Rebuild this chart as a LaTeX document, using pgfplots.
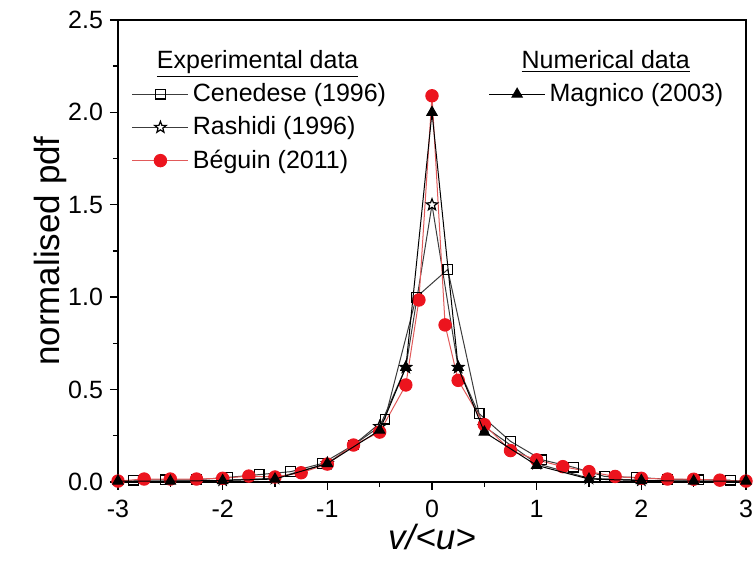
\documentclass[border=0pt]{standalone}
\usepackage{fontspec}
\setmainfont{Liberation Sans}
\usepackage{pgfplots}
\pgfplotsset{compat=1.18}
\definecolor{bred}{RGB}{236,20,30}
\definecolor{lred}{RGB}{225,90,90}
\definecolor{dgray}{RGB}{60,60,60}
\pgfdeclareplotmark{pstar}{%
  \pgfpathmoveto{\pgfpointpolar{90}{\pgfplotmarksize}}%
  \pgfpathlineto{\pgfpointpolar{126}{0.42\pgfplotmarksize}}%
  \pgfpathlineto{\pgfpointpolar{162}{\pgfplotmarksize}}%
  \pgfpathlineto{\pgfpointpolar{198}{0.42\pgfplotmarksize}}%
  \pgfpathlineto{\pgfpointpolar{234}{\pgfplotmarksize}}%
  \pgfpathlineto{\pgfpointpolar{270}{0.42\pgfplotmarksize}}%
  \pgfpathlineto{\pgfpointpolar{306}{\pgfplotmarksize}}%
  \pgfpathlineto{\pgfpointpolar{342}{0.42\pgfplotmarksize}}%
  \pgfpathlineto{\pgfpointpolar{18}{\pgfplotmarksize}}%
  \pgfpathlineto{\pgfpointpolar{54}{0.42\pgfplotmarksize}}%
  \pgfpathclose
  \pgfusepathqfillstroke}
\begin{document}
\begin{tikzpicture}
\path[use as bounding box] (-59pt,-39.5pt) rectangle (318.5pt,241pt);
\pgfplotsset{
  common/.style={
    scale only axis, width=314pt, height=231pt,
    xmin=-3, xmax=3, ymin=0, ymax=2.5,
    legend cell align=left,
    legend image code/.code={\draw[mark repeat=2,mark phase=2] plot coordinates {(0pt,0pt) (14pt,0pt) (28pt,0pt)};},
  }
}
\begin{axis}[common,
  axis line style={line width=0.8pt},
  xtick={-3,-2,-1,0,1,2,3},
  xticklabels={-3,-2,-1,0,1,2,3},
  minor xtick={-2.5,-1.5,-0.5,0.5,1.5,2.5},
  ytick={0,0.5,1,1.5,2,2.5},
  yticklabels={0.0,0.5,1.0,1.5,2.0,2.5},
  minor ytick={0.25,0.75,1.25,1.75,2.25},
  tick align=outside, xtick pos=left, ytick pos=left,
  major tick length=4pt, minor tick length=2.5pt,
  tick style={line width=0.7pt, black},
  ticklabel style={font=\fontsize{12.5}{14}\selectfont},
  xticklabel style={yshift=-1.5pt},
  xlabel={\textit{v/<u>}},
  ylabel={normalised pdf},
  label style={font=\fontsize{17.5}{20}\selectfont},
  xlabel style={at={(axis description cs:0.5,0)}, anchor=north, yshift=-20pt, inner sep=1pt},
  ylabel style={at={(axis description cs:0,0.5)}, anchor=south, yshift=22pt},
  legend style={draw=none, fill=none, at={(rel axis cs:0.012,0.952)}, anchor=north west,
    font=\fontsize{12.5}{14}\selectfont, row sep=2pt},
]
\addlegendimage{empty legend}
\addlegendentry{\hspace*{-18pt}\underline{Experimental data}}
\addplot[dgray, line width=0.5pt, mark=square, mark size=2.4pt, mark options={black, fill=white, line width=0.6pt}] coordinates {
(-2.85,0.01) (-2.55,0.012) (-2.25,0.012) (-1.95,0.025) (-1.65,0.04) (-1.35,0.056)
(-1.05,0.10) (-0.75,0.20) (-0.45,0.34) (-0.15,1.00) (0.15,1.15) (0.45,0.37)
(0.75,0.22) (1.05,0.12) (1.35,0.08) (1.65,0.03) (1.95,0.025) (2.25,0.015)
(2.55,0.012) (2.85,0.01)};
\addlegendentry{Cenedese (1996)}
\addplot[dgray, line width=0.5pt, mark=pstar, mark size=3pt, mark options={black, fill=white, line width=0.6pt}] coordinates {
(-2,0.01) (-1.5,0.02) (-1,0.10) (-0.5,0.30) (-0.25,0.62) (0,1.50)
(0.25,0.62) (0.5,0.30) (1,0.10) (1.5,0.02) (2,0.01)};
\addlegendentry{Rashidi (1996)}
\addplot[lred, line width=0.5pt, mark=*, mark size=3.1pt, mark options={bred, fill=bred}] coordinates {
(-3,0.005) (-2.75,0.016) (-2.5,0.016) (-2.25,0.016) (-2,0.02) (-1.75,0.032) (-1.5,0.027)
(-1.25,0.05) (-1,0.097) (-0.75,0.2) (-0.5,0.27) (-0.25,0.525) (-0.125,0.985)
(0,2.09) (0.125,0.85) (0.25,0.55) (0.5,0.31) (0.75,0.17) (1,0.12) (1.25,0.083)
(1.5,0.056) (1.75,0.03) (2,0.02) (2.25,0.016) (2.5,0.015) (2.75,0.01) (3,0.005)};
\addlegendentry{B\'eguin (2011)}
\end{axis}
\begin{axis}[common, hide axis,
  legend style={draw=none, fill=none, at={(rel axis cs:0.58,0.952)}, anchor=north west,
    font=\fontsize{12.5}{14}\selectfont, row sep=2pt},
]
\addlegendimage{empty legend}
\addlegendentry{\hspace*{-14pt}\underline{Numerical data}}
\addplot[black, line width=0.5pt, mark=triangle*, mark size=3pt, mark options={black, fill=black}] coordinates {
(-3,0.005) (-2.5,0.005) (-2,0.008) (-1.5,0.016) (-1,0.10) (-0.5,0.28) (-0.25,0.62)
(0,2.00) (0.25,0.62) (0.5,0.27) (1,0.09) (1.5,0.016) (2,0.008) (2.5,0.005) (3,0.005)};
\addlegendentry{Magnico (2003)}
\end{axis}
\end{tikzpicture}
\end{document}
